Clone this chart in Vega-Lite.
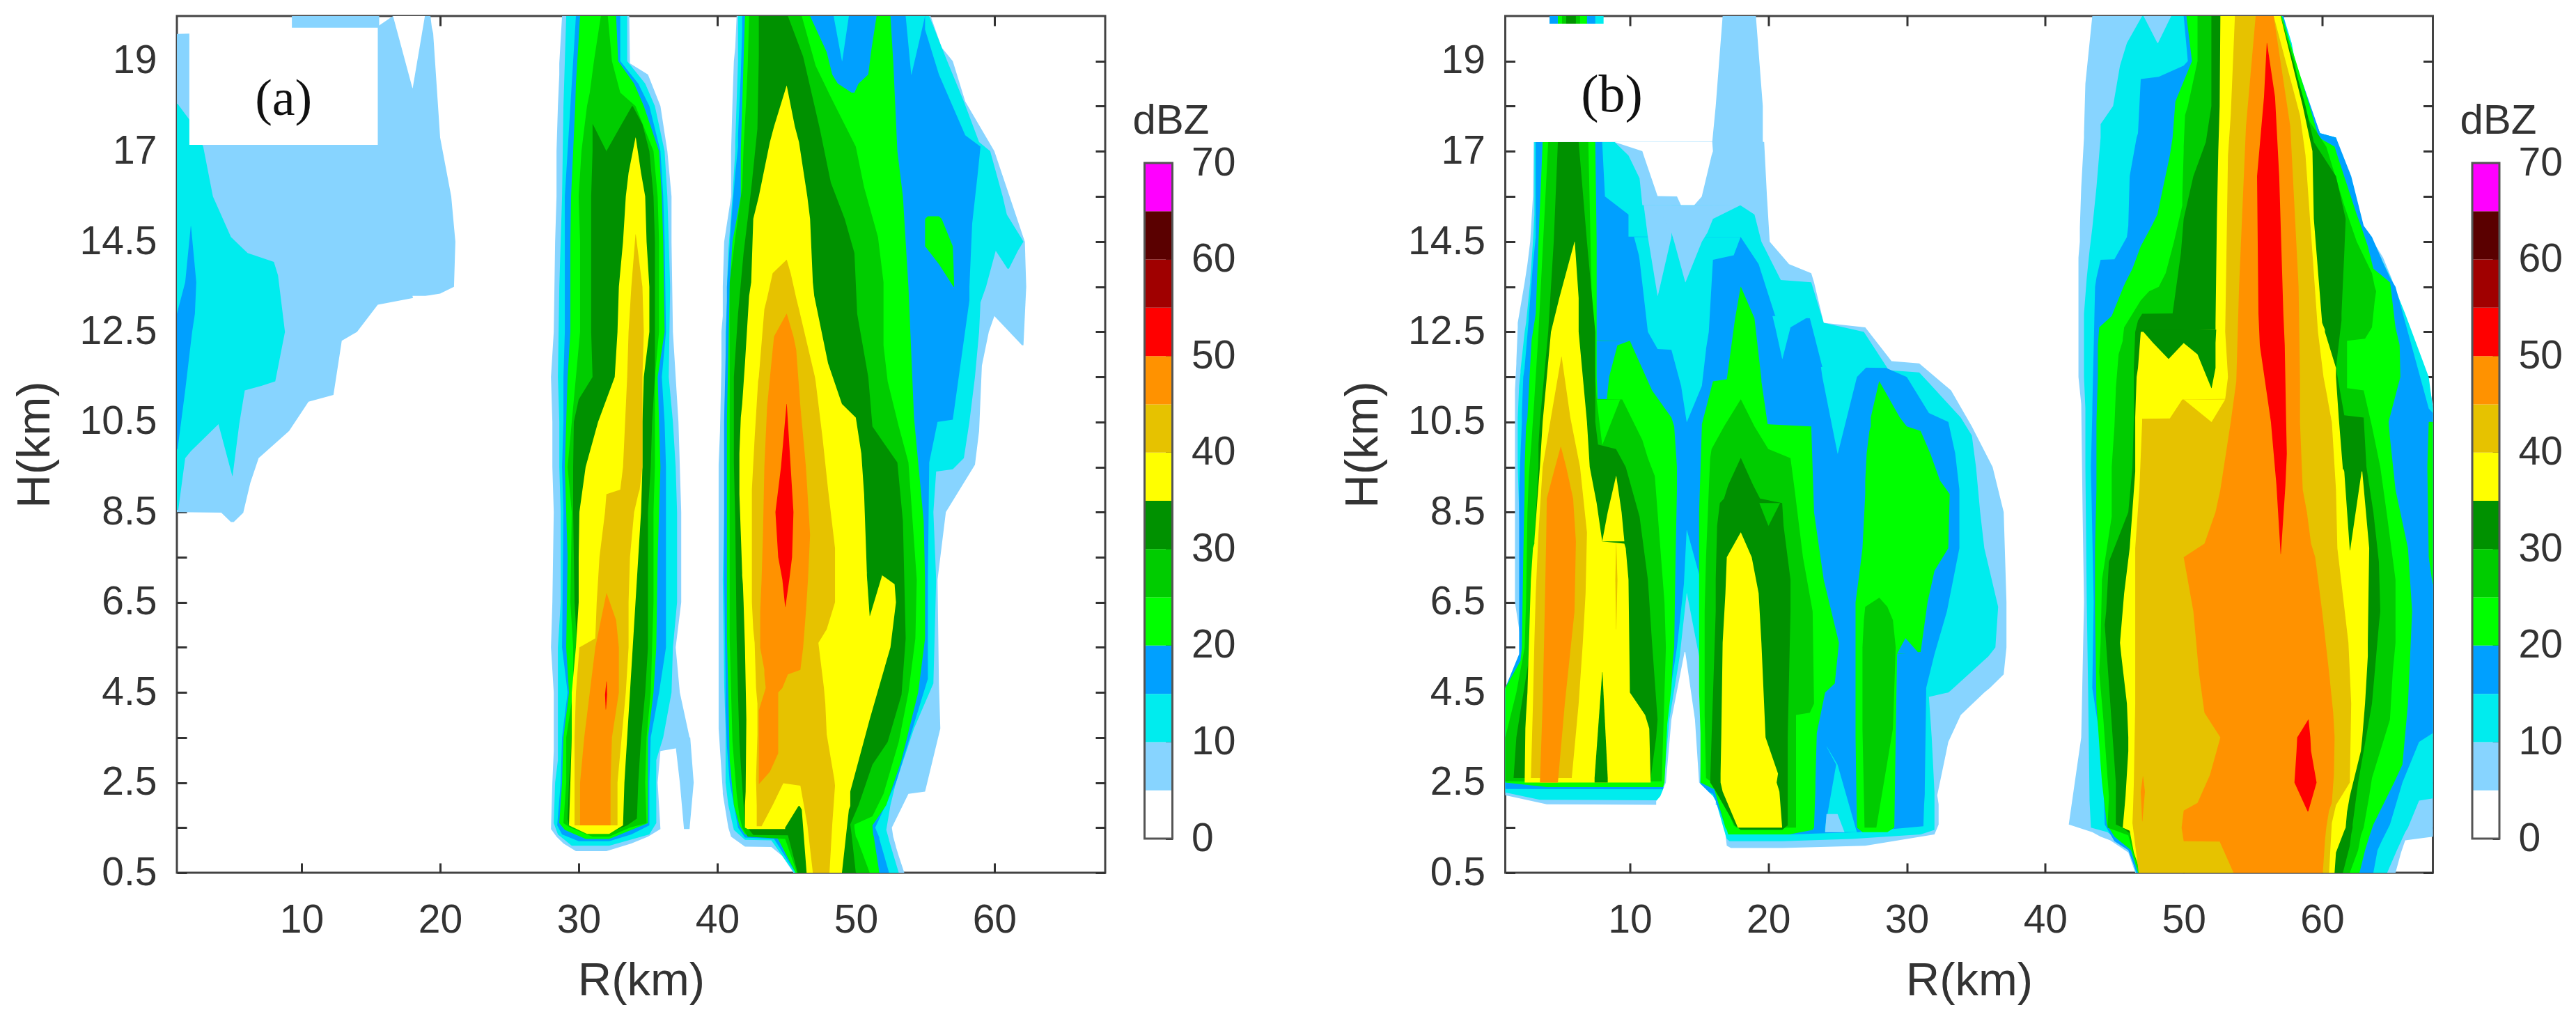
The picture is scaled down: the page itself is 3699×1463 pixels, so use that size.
{"$schema":"https://vega.github.io/schema/vega-lite/v6.json","background":"white","autosize":{"type":"pad"},"padding":{"left":14,"top":20,"right":0,"bottom":0},"bounds":"flush","spacing":56.5,"config":{"view":{"stroke":"#444","strokeWidth":3},"axis":{"grid":false,"labelFont":"Liberation Sans","titleFont":"Liberation Sans","labelFontSize":57,"titleFontSize":67,"titleFontWeight":"normal","labelColor":"#333","titleColor":"#333","tickColor":"#333","tickWidth":3,"domain":false,"labelOverlap":false,"labelFlush":false}},
"datasets":{
"cb":[{"lo":0,"hi":5,"z":0},{"lo":5,"hi":10,"z":5},{"lo":10,"hi":15,"z":10},{"lo":15,"hi":20,"z":15},{"lo":20,"hi":25,"z":20},{"lo":25,"hi":30,"z":25},{"lo":30,"hi":35,"z":30},{"lo":35,"hi":40,"z":35},{"lo":40,"hi":45,"z":40},{"lo":45,"hi":50,"z":45},{"lo":50,"hi":55,"z":50},{"lo":55,"hi":60,"z":55},{"lo":60,"hi":65,"z":60},{"lo":65,"hi":70,"z":65}],
"a":[
{"g":1,"z":5,"H":8.28,"a":4.9,"b":5.1},{"g":1,"z":5,"H":8.49,"a":4.2,"b":5.8},{"g":1,"z":5,"H":8.5,"a":1,"b":5.8},{"g":1,"z":5,"H":9.15,"a":1,"b":6.3},{"g":1,"z":5,"H":9.7,"a":1,"b":6.9},{"g":1,"z":5,"H":10.3,"a":1,"b":9.1},{"g":1,"z":5,"H":10.95,"a":1,"b":10.5},{"g":1,"z":5,"H":11.1,"a":1,"b":12.3},{"g":1,"z":5,"H":12.3,"a":1,"b":12.9},{"g":1,"z":5,"H":12.5,"a":1,"b":14},{"g":1,"z":5,"H":13.1,"a":1,"b":15.5},{"g":1,"z":5,"H":13.25,"a":1,"b":18},{"g":1,"z":5,"H":13.35,"a":1,"b":20},{"g":1,"z":5,"H":13.5,"a":1,"b":21},{"g":1,"z":5,"H":14.5,"a":1,"b":21.1},{"g":1,"z":5,"H":15.75,"a":1,"b":20.8},{"g":1,"z":5,"H":17.3,"a":1,"b":20},{"g":1,"z":5,"H":19.6,"a":1,"b":19.5},{"g":1,"z":5,"H":19.61,"a":1.9,"b":19.5},{"g":1,"z":5,"H":19.75,"a":15.4,"b":19.4},{"g":1,"z":5,"H":20,"a":16.6,"b":19.3},
{"g":2,"z":5,"H":19.7,"a":9.3,"b":15.6},{"g":2,"z":5,"H":20,"a":9.3,"b":15.6},
{"g":3,"z":0,"H":18.4,"a":18,"b":18.02},{"g":3,"z":0,"H":20,"a":16.6,"b":18.9},
{"g":4,"z":0,"H":12.1,"a":19,"b":19.02},{"g":4,"z":0,"H":13.3,"a":18,"b":20},
{"g":5,"z":10,"H":8.55,"a":1,"b":1.1},{"g":5,"z":10,"H":9.7,"a":1,"b":1.6},{"g":5,"z":10,"H":9.85,"a":1,"b":2},{"g":5,"z":10,"H":10.45,"a":1,"b":4},{"g":5,"z":10,"H":11.2,"a":1,"b":5.9},{"g":5,"z":10,"H":11.3,"a":1,"b":7.1},{"g":5,"z":10,"H":11.4,"a":1,"b":8.1},{"g":5,"z":10,"H":12.5,"a":1,"b":8.8},{"g":5,"z":10,"H":13.75,"a":1,"b":8.3},{"g":5,"z":10,"H":14.05,"a":1,"b":8},{"g":5,"z":10,"H":14.25,"a":1,"b":6.1},{"g":5,"z":10,"H":14.63,"a":1,"b":4.9},{"g":5,"z":10,"H":15.75,"a":1,"b":3.6},{"g":5,"z":10,"H":17.1,"a":1,"b":2.9},{"g":5,"z":10,"H":17.7,"a":1,"b":1.9},{"g":5,"z":10,"H":18.05,"a":1,"b":1.05},
{"g":6,"z":10,"H":9.3,"a":5,"b":5.02},{"g":6,"z":10,"H":10.45,"a":4,"b":5.5},{"g":6,"z":10,"H":11.2,"a":4,"b":5.9},
{"g":7,"z":15,"H":9.9,"a":1,"b":1.05},{"g":7,"z":15,"H":11.2,"a":1,"b":1.6},{"g":7,"z":15,"H":12.5,"a":1,"b":2.1},{"g":7,"z":15,"H":12.9,"a":1,"b":2.3},{"g":7,"z":15,"H":13.6,"a":1.6,"b":2.4},{"g":7,"z":15,"H":14.93,"a":2,"b":2.02},

{"g":10,"z":5,"H":0.98,"a":29.8,"b":32},{"g":10,"z":5,"H":1.15,"a":28.9,"b":33.8},{"g":10,"z":5,"H":1.3,"a":28.4,"b":35},{"g":10,"z":5,"H":1.47,"a":28,"b":35.9},{"g":10,"z":5,"H":2.5,"a":28.1,"b":35.7},{"g":10,"z":5,"H":3.2,"a":28.2,"b":35.9},{"g":10,"z":5,"H":3.26,"a":28.2,"b":37},{"g":10,"z":5,"H":3.5,"a":28.2,"b":38},{"g":10,"z":5,"H":4.5,"a":28.2,"b":37.3},{"g":10,"z":5,"H":5.5,"a":28,"b":37},{"g":10,"z":5,"H":6.5,"a":28.1,"b":37.4},{"g":10,"z":5,"H":8.5,"a":28.2,"b":37.4},{"g":10,"z":5,"H":9.5,"a":28.1,"b":37.3},{"g":10,"z":5,"H":10.5,"a":28.1,"b":37.2},{"g":10,"z":5,"H":11.5,"a":28,"b":37},{"g":10,"z":5,"H":12.5,"a":28.2,"b":36.8},{"g":10,"z":5,"H":14.5,"a":28.3,"b":36.7},{"g":10,"z":5,"H":15.75,"a":28.4,"b":36.7},{"g":10,"z":5,"H":17,"a":28.4,"b":36.4},{"g":10,"z":5,"H":18,"a":28.5,"b":35.9},{"g":10,"z":5,"H":18.7,"a":28.6,"b":35},{"g":10,"z":5,"H":18.95,"a":28.6,"b":33.7},{"g":10,"z":5,"H":20,"a":28.8,"b":33.65},
{"g":11,"z":5,"H":1.47,"a":37.6,"b":38},{"g":11,"z":5,"H":2.5,"a":37.3,"b":38.3},{"g":11,"z":5,"H":3.3,"a":37,"b":38.1},{"g":11,"z":5,"H":3.5,"a":37,"b":38.05},
{"g":12,"z":10,"H":1.1,"a":29.5,"b":32.2},{"g":12,"z":10,"H":1.35,"a":28.5,"b":35.1},{"g":12,"z":10,"H":1.6,"a":28.2,"b":35.6},{"g":12,"z":10,"H":2.5,"a":28.3,"b":35.6},{"g":12,"z":10,"H":3,"a":28.5,"b":35.6},{"g":12,"z":10,"H":3.5,"a":28.5,"b":36.1},{"g":12,"z":10,"H":4.5,"a":28.5,"b":36.7},{"g":12,"z":10,"H":5.5,"a":28.5,"b":36.8},{"g":12,"z":10,"H":6.5,"a":28.7,"b":37.1},{"g":12,"z":10,"H":8.5,"a":28.7,"b":37.1},{"g":12,"z":10,"H":9.5,"a":28.6,"b":37},{"g":12,"z":10,"H":10.5,"a":28.6,"b":36.8},{"g":12,"z":10,"H":11.5,"a":28.5,"b":36.5},{"g":12,"z":10,"H":13.5,"a":28.6,"b":36.6},{"g":12,"z":10,"H":14.5,"a":28.7,"b":36.5},{"g":12,"z":10,"H":15.75,"a":28.8,"b":36.4},{"g":12,"z":10,"H":17,"a":28.85,"b":36.2},{"g":12,"z":10,"H":18,"a":28.9,"b":35.5},{"g":12,"z":10,"H":18.5,"a":28.95,"b":34.8},{"g":12,"z":10,"H":19,"a":29,"b":33.5},{"g":12,"z":10,"H":20,"a":29.1,"b":33.5},
{"g":13,"z":15,"H":1.2,"a":30,"b":32.2},{"g":13,"z":15,"H":1.35,"a":28.8,"b":33.8},{"g":13,"z":15,"H":1.55,"a":28.45,"b":35.1},{"g":13,"z":15,"H":2.5,"a":28.7,"b":35.1},{"g":13,"z":15,"H":3.5,"a":28.8,"b":35.2},{"g":13,"z":15,"H":4.5,"a":29.2,"b":35.8},{"g":13,"z":15,"H":5.5,"a":28.8,"b":36.3},{"g":13,"z":15,"H":8.5,"a":28.9,"b":36.3},{"g":13,"z":15,"H":9.5,"a":28.8,"b":36.3},{"g":13,"z":15,"H":10.5,"a":28.9,"b":36.2},{"g":13,"z":15,"H":11.5,"a":28.9,"b":36},{"g":13,"z":15,"H":12.5,"a":29,"b":36.3},{"g":13,"z":15,"H":14.5,"a":29,"b":36.2},{"g":13,"z":15,"H":15.75,"a":29,"b":36.1},{"g":13,"z":15,"H":17,"a":29.2,"b":35.9},{"g":13,"z":15,"H":18,"a":29.4,"b":35.1},{"g":13,"z":15,"H":18.5,"a":29.5,"b":34.3},{"g":13,"z":15,"H":19,"a":29.6,"b":33},{"g":13,"z":15,"H":20,"a":29.8,"b":33},
{"g":14,"z":20,"H":1.25,"a":30.5,"b":32.2},{"g":14,"z":20,"H":1.45,"a":29,"b":33.8},{"g":14,"z":20,"H":1.6,"a":28.6,"b":35},{"g":14,"z":20,"H":2.5,"a":28.8,"b":35},{"g":14,"z":20,"H":3.5,"a":28.9,"b":35},{"g":14,"z":20,"H":4.5,"a":29.3,"b":35.4},{"g":14,"z":20,"H":5.5,"a":29.1,"b":35.6},{"g":14,"z":20,"H":7.5,"a":29.2,"b":35.7},{"g":14,"z":20,"H":9.5,"a":29,"b":35.9},{"g":14,"z":20,"H":10.5,"a":29.1,"b":35.8},{"g":14,"z":20,"H":11.5,"a":29.2,"b":35.7},{"g":14,"z":20,"H":12.5,"a":29.4,"b":36.2},{"g":14,"z":20,"H":14.5,"a":29.4,"b":36.1},{"g":14,"z":20,"H":15.75,"a":29.45,"b":36},{"g":14,"z":20,"H":17,"a":29.6,"b":35.8},{"g":14,"z":20,"H":18,"a":29.75,"b":34.7},{"g":14,"z":20,"H":18.5,"a":29.8,"b":34},{"g":14,"z":20,"H":19,"a":29.9,"b":32.85},{"g":14,"z":20,"H":20,"a":30.1,"b":32.7},
{"g":15,"z":25,"H":1.3,"a":31,"b":32.2},{"g":15,"z":25,"H":1.5,"a":29.4,"b":33.7},{"g":15,"z":25,"H":1.6,"a":28.9,"b":34.9},{"g":15,"z":25,"H":2.5,"a":29.1,"b":34.8},{"g":15,"z":25,"H":3.5,"a":29.1,"b":34.9},{"g":15,"z":25,"H":4.5,"a":29.6,"b":35.2},{"g":15,"z":25,"H":5.5,"a":29.6,"b":35.3},{"g":15,"z":25,"H":6.5,"a":29.4,"b":35.4},{"g":15,"z":25,"H":8.5,"a":29.5,"b":35.4},{"g":15,"z":25,"H":9.5,"a":29.2,"b":35.5},{"g":15,"z":25,"H":10.5,"a":29.5,"b":35.5},{"g":15,"z":25,"H":11.5,"a":29.8,"b":35.5},{"g":15,"z":25,"H":12.5,"a":30.1,"b":35.8},{"g":15,"z":25,"H":14.5,"a":30.1,"b":35.8},{"g":15,"z":25,"H":15.75,"a":30,"b":35.7},{"g":15,"z":25,"H":17,"a":30.2,"b":35.4},{"g":15,"z":25,"H":18,"a":30.6,"b":34.1},{"g":15,"z":25,"H":18.3,"a":30.8,"b":33},{"g":15,"z":25,"H":19,"a":31.1,"b":32.4},{"g":15,"z":25,"H":20,"a":31.6,"b":32.1},
{"g":16,"z":30,"H":1.4,"a":30.8,"b":32.3},{"g":16,"z":30,"H":1.55,"a":29.3,"b":33.5},{"g":16,"z":30,"H":1.7,"a":29.2,"b":34.2},{"g":16,"z":30,"H":2.5,"a":29.3,"b":34.3},{"g":16,"z":30,"H":3.5,"a":29.5,"b":34.5},{"g":16,"z":30,"H":4.5,"a":29.9,"b":34.8},{"g":16,"z":30,"H":5.5,"a":29.9,"b":35},{"g":16,"z":30,"H":6.5,"a":29.7,"b":35},{"g":16,"z":30,"H":8.5,"a":29.6,"b":35},{"g":16,"z":30,"H":9.5,"a":29.6,"b":35.2},{"g":16,"z":30,"H":10.5,"a":29.65,"b":35.3},{"g":16,"z":30,"H":11,"a":30,"b":35.4},{"g":16,"z":30,"H":11.5,"a":31,"b":35.5},{"g":16,"z":30,"H":12.5,"a":30.9,"b":35.5},{"g":16,"z":30,"H":14.5,"a":30.9,"b":35.5},{"g":16,"z":30,"H":15.75,"a":30.9,"b":35.4},{"g":16,"z":30,"H":17,"a":32,"b":35.1},{"g":16,"z":30,"H":17.6,"a":33.1,"b":34.6},{"g":16,"z":30,"H":18,"a":33.85,"b":33.9},
{"g":17,"z":30,"H":15.75,"a":30.9,"b":32},{"g":17,"z":30,"H":17,"a":31,"b":32},{"g":17,"z":30,"H":17.6,"a":31,"b":31.02},
{"g":18,"z":35,"H":1.36,"a":30.6,"b":32.2},{"g":18,"z":35,"H":1.55,"a":29.3,"b":33.2},{"g":18,"z":35,"H":2.5,"a":29.4,"b":33.3},{"g":18,"z":35,"H":3.5,"a":29.5,"b":33.5},{"g":18,"z":35,"H":4.5,"a":29.5,"b":33.7},{"g":18,"z":35,"H":5.5,"a":29.8,"b":33.9},{"g":18,"z":35,"H":6.5,"a":30,"b":34.1},{"g":18,"z":35,"H":7.5,"a":30,"b":34.3},{"g":18,"z":35,"H":8.5,"a":30.05,"b":34.5},{"g":18,"z":35,"H":9.5,"a":30.5,"b":34.6},{"g":18,"z":35,"H":10.5,"a":31.4,"b":34.6},{"g":18,"z":35,"H":11.5,"a":32.6,"b":34.7},{"g":18,"z":35,"H":12.5,"a":32.8,"b":35.1},{"g":18,"z":35,"H":13.5,"a":32.9,"b":35.1},{"g":18,"z":35,"H":14.5,"a":33.2,"b":34.9},{"g":18,"z":35,"H":15.75,"a":33.4,"b":34.8},{"g":18,"z":35,"H":16.4,"a":33.6,"b":34.5},{"g":18,"z":35,"H":17.3,"a":34.1,"b":34.12},
{"g":19,"z":40,"H":1.55,"a":29.7,"b":32.8},{"g":19,"z":40,"H":2.5,"a":29.7,"b":32.8},{"g":19,"z":40,"H":3.5,"a":29.7,"b":33.1},{"g":19,"z":40,"H":4.5,"a":29.8,"b":33.4},{"g":19,"z":40,"H":5.5,"a":30.05,"b":33.6},{"g":19,"z":40,"H":5.7,"a":31.2,"b":33.6},{"g":19,"z":40,"H":6.5,"a":31.3,"b":33.6},{"g":19,"z":40,"H":7.5,"a":31.5,"b":33.7},{"g":19,"z":40,"H":8.5,"a":31.9,"b":34},{"g":19,"z":40,"H":8.9,"a":32,"b":34.3},{"g":19,"z":40,"H":9,"a":33,"b":34.4},{"g":19,"z":40,"H":9.5,"a":33.2,"b":34.6},{"g":19,"z":40,"H":11.5,"a":33.5,"b":34.6},{"g":19,"z":40,"H":12.5,"a":33.6,"b":34.7},{"g":19,"z":40,"H":13.5,"a":33.8,"b":34.6},{"g":19,"z":40,"H":14.7,"a":34.1,"b":34.12},
{"g":20,"z":45,"H":1.55,"a":30.1,"b":32.3},{"g":20,"z":45,"H":2.5,"a":30.1,"b":32.3},{"g":20,"z":45,"H":3.5,"a":30.4,"b":32.4},{"g":20,"z":45,"H":4.5,"a":30.8,"b":32.9},{"g":20,"z":45,"H":5.5,"a":31.2,"b":32.9},{"g":20,"z":45,"H":6.1,"a":31.6,"b":32.7},{"g":20,"z":45,"H":6.7,"a":32,"b":32.02},
{"g":21,"z":50,"H":4.12,"a":31.95,"b":31.97},{"g":21,"z":50,"H":4.45,"a":31.9,"b":32.05},{"g":21,"z":50,"H":4.74,"a":32,"b":32.02},

{"g":30,"z":5,"H":0.5,"a":45.5,"b":53.5},{"g":30,"z":5,"H":0.87,"a":44.7,"b":53.1},{"g":30,"z":5,"H":1.07,"a":43.9,"b":52.9},{"g":30,"z":5,"H":1.08,"a":42,"b":52.9},{"g":30,"z":5,"H":1.3,"a":41,"b":52.7},{"g":30,"z":5,"H":1.5,"a":40.8,"b":52.6},{"g":30,"z":5,"H":2.25,"a":40.4,"b":53.8},{"g":30,"z":5,"H":2.3,"a":40.4,"b":55},{"g":30,"z":5,"H":3.7,"a":40.1,"b":56.1},{"g":30,"z":5,"H":4.7,"a":40.1,"b":56},{"g":30,"z":5,"H":7,"a":40.1,"b":55.9},{"g":30,"z":5,"H":8.5,"a":40.1,"b":56.5},{"g":30,"z":5,"H":9.55,"a":40.1,"b":58.6},{"g":30,"z":5,"H":10.3,"a":40.2,"b":58.9},{"g":30,"z":5,"H":11.75,"a":40.3,"b":59.1},{"g":30,"z":5,"H":12.5,"a":40.3,"b":59.6},{"g":30,"z":5,"H":12.85,"a":40.4,"b":60},{"g":30,"z":5,"H":13.5,"a":40.4,"b":60.5},{"g":30,"z":5,"H":14.5,"a":40.5,"b":62.2},{"g":30,"z":5,"H":15.75,"a":41,"b":61.1},{"g":30,"z":5,"H":17,"a":41,"b":60},{"g":30,"z":5,"H":18.1,"a":41.1,"b":57.9},{"g":30,"z":5,"H":19,"a":41.2,"b":57},{"g":30,"z":5,"H":19.3,"a":41.3,"b":56.2},{"g":30,"z":5,"H":20,"a":41.4,"b":55.4},
{"g":31,"z":5,"H":12.2,"a":62,"b":62.1},{"g":31,"z":5,"H":12.85,"a":60,"b":62.2},{"g":31,"z":5,"H":13.5,"a":60,"b":62.3},{"g":31,"z":5,"H":14.5,"a":60,"b":62.2},
{"g":32,"z":10,"H":0.5,"a":45.55,"b":53.1},{"g":32,"z":10,"H":1.22,"a":43.9,"b":52.4},{"g":32,"z":10,"H":1.23,"a":42,"b":52.4},{"g":32,"z":10,"H":1.45,"a":41.2,"b":52.2},{"g":32,"z":10,"H":2,"a":40.8,"b":52.5},{"g":32,"z":10,"H":2.5,"a":40.6,"b":52.9},{"g":32,"z":10,"H":3.7,"a":40.6,"b":54.2},{"g":32,"z":10,"H":4.7,"a":40.5,"b":55.6},{"g":32,"z":10,"H":7,"a":40.4,"b":55.8},{"g":32,"z":10,"H":8.5,"a":40.5,"b":55.6},{"g":32,"z":10,"H":9.4,"a":40.5,"b":55.8},{"g":32,"z":10,"H":9.45,"a":40.5,"b":57},{"g":32,"z":10,"H":9.7,"a":40.5,"b":57.8},{"g":32,"z":10,"H":10.5,"a":40.5,"b":58.2},{"g":32,"z":10,"H":11.5,"a":40.6,"b":58.6},{"g":32,"z":10,"H":12.5,"a":40.6,"b":58.9},{"g":32,"z":10,"H":13.15,"a":40.7,"b":59},{"g":32,"z":10,"H":13.5,"a":40.7,"b":59.4},{"g":32,"z":10,"H":14.3,"a":40.8,"b":60.1},{"g":32,"z":10,"H":15.25,"a":41,"b":60.9},{"g":32,"z":10,"H":15.75,"a":41.1,"b":60.6},{"g":32,"z":10,"H":17,"a":41.3,"b":59.7},{"g":32,"z":10,"H":17.2,"a":41.3,"b":58.9},{"g":32,"z":10,"H":18.1,"a":41.4,"b":57.8},{"g":32,"z":10,"H":19,"a":41.5,"b":56.6},{"g":32,"z":10,"H":20,"a":41.5,"b":55.3},
{"g":33,"z":10,"H":13.9,"a":60.95,"b":61.05},{"g":33,"z":10,"H":14.3,"a":60.1,"b":61.7},{"g":33,"z":10,"H":14.5,"a":60.1,"b":62.1},{"g":33,"z":10,"H":14.63,"a":60.1,"b":61.9},{"g":33,"z":10,"H":15.25,"a":60.1,"b":60.9},
{"g":34,"z":15,"H":0.5,"a":45.65,"b":52.4},{"g":34,"z":15,"H":1.25,"a":44.1,"b":51.7},{"g":34,"z":15,"H":1.28,"a":42,"b":51.7},{"g":34,"z":15,"H":1.5,"a":41.5,"b":51.4},{"g":34,"z":15,"H":2.5,"a":40.9,"b":52.9},{"g":34,"z":15,"H":3.3,"a":40.7,"b":53.7},{"g":34,"z":15,"H":4.2,"a":40.6,"b":54.6},{"g":34,"z":15,"H":4.8,"a":40.6,"b":55.2},{"g":34,"z":15,"H":7,"a":40.5,"b":55.2},{"g":34,"z":15,"H":9.6,"a":40.5,"b":55.3},{"g":34,"z":15,"H":10.5,"a":40.5,"b":55.9},{"g":34,"z":15,"H":10.55,"a":40.5,"b":57},{"g":34,"z":15,"H":13.2,"a":40.7,"b":58.2},{"g":34,"z":15,"H":13.5,"a":40.7,"b":58.2},{"g":34,"z":15,"H":15,"a":41,"b":58.4},{"g":34,"z":15,"H":16.38,"a":41.3,"b":58.8},{"g":34,"z":15,"H":17.1,"a":41.5,"b":59},{"g":34,"z":15,"H":17.35,"a":41.5,"b":57.9},{"g":34,"z":15,"H":18.7,"a":41.7,"b":56},{"g":34,"z":15,"H":19.7,"a":41.8,"b":55},{"g":34,"z":15,"H":20,"a":41.8,"b":55},
{"g":35,"z":10,"H":18.7,"a":54,"b":54.02},{"g":35,"z":10,"H":20,"a":53.6,"b":55},
{"g":36,"z":20,"H":0.5,"a":45.65,"b":51.7},{"g":36,"z":20,"H":1.3,"a":44.3,"b":51.3},{"g":36,"z":20,"H":1.35,"a":42,"b":51.25},{"g":36,"z":20,"H":1.55,"a":41.6,"b":51.2},{"g":36,"z":20,"H":2,"a":41.2,"b":52.2},{"g":36,"z":20,"H":3,"a":40.9,"b":53.3},{"g":36,"z":20,"H":4.5,"a":40.8,"b":54.5},{"g":36,"z":20,"H":5.7,"a":40.7,"b":55},{"g":36,"z":20,"H":7,"a":40.7,"b":55},{"g":36,"z":20,"H":8.3,"a":40.7,"b":54.9},{"g":36,"z":20,"H":10.6,"a":40.7,"b":54.2},{"g":36,"z":20,"H":13.5,"a":40.9,"b":53.8},{"g":36,"z":20,"H":14.5,"a":41.1,"b":53.6},{"g":36,"z":20,"H":15.75,"a":41.7,"b":53.4},{"g":36,"z":20,"H":17,"a":41.7,"b":53},{"g":36,"z":20,"H":19,"a":41.9,"b":52.7},{"g":36,"z":20,"H":20,"a":42,"b":52.5},
{"g":37,"z":20,"H":13.5,"a":57.05,"b":57.1},{"g":37,"z":20,"H":14,"a":56,"b":57.05},{"g":37,"z":20,"H":14.4,"a":55,"b":57},{"g":37,"z":20,"H":15.13,"a":55,"b":56.2},{"g":37,"z":20,"H":15.2,"a":55.2,"b":56},
{"g":38,"z":15,"H":18.3,"a":49.7,"b":49.9},{"g":38,"z":15,"H":18.5,"a":48.7,"b":50.2},{"g":38,"z":15,"H":18.7,"a":48.3,"b":50.9},{"g":38,"z":15,"H":19.2,"a":47.9,"b":51.1},{"g":38,"z":15,"H":20,"a":46.7,"b":51.5},
{"g":39,"z":10,"H":19,"a":49,"b":49.02},{"g":39,"z":10,"H":20,"a":48.4,"b":49.5},
{"g":40,"z":25,"H":0.5,"a":45.75,"b":51},{"g":40,"z":25,"H":1.25,"a":44.9,"b":50.1},{"g":40,"z":25,"H":1.3,"a":42.2,"b":50},{"g":40,"z":25,"H":1.5,"a":41.8,"b":49.9},{"g":40,"z":25,"H":1.57,"a":41.75,"b":49.9},{"g":40,"z":25,"H":1.75,"a":41.6,"b":51.2},{"g":40,"z":25,"H":2.25,"a":41.4,"b":52},{"g":40,"z":25,"H":3.4,"a":41.1,"b":53.1},{"g":40,"z":25,"H":4.5,"a":41,"b":53.8},{"g":40,"z":25,"H":5.7,"a":40.9,"b":54.3},{"g":40,"z":25,"H":7,"a":40.9,"b":54.4},{"g":40,"z":25,"H":9.6,"a":40.9,"b":53.8},{"g":40,"z":25,"H":10.4,"a":40.9,"b":53.1},{"g":40,"z":25,"H":11.4,"a":40.9,"b":52.3},{"g":40,"z":25,"H":12.2,"a":40.9,"b":52},{"g":40,"z":25,"H":13.6,"a":40.9,"b":52},{"g":40,"z":25,"H":14.63,"a":41.3,"b":51.6},{"g":40,"z":25,"H":16,"a":41.8,"b":50.6},{"g":40,"z":25,"H":17.1,"a":41.9,"b":50},{"g":40,"z":25,"H":18.2,"a":42.1,"b":48.2},{"g":40,"z":25,"H":18.9,"a":42.2,"b":47.1},{"g":40,"z":25,"H":20,"a":42.3,"b":46.1},
{"g":41,"z":30,"H":0.5,"a":45.8,"b":50},{"g":41,"z":30,"H":1.33,"a":45.1,"b":49.7},{"g":41,"z":30,"H":1.34,"a":42.6,"b":49.7},{"g":41,"z":30,"H":1.57,"a":42,"b":49.6},{"g":41,"z":30,"H":2,"a":41.9,"b":50.2},{"g":41,"z":30,"H":2.9,"a":41.7,"b":51.2},{"g":41,"z":30,"H":3.4,"a":41.6,"b":52.3},{"g":41,"z":30,"H":4.45,"a":41.5,"b":53.3},{"g":41,"z":30,"H":5.7,"a":41.4,"b":53.6},{"g":41,"z":30,"H":8.3,"a":41.3,"b":53.4},{"g":41,"z":30,"H":9.6,"a":41.2,"b":53},{"g":41,"z":30,"H":10.4,"a":41.2,"b":51.2},{"g":41,"z":30,"H":11.5,"a":41.2,"b":50.9},{"g":41,"z":30,"H":12.9,"a":41.5,"b":50.1},{"g":41,"z":30,"H":14.25,"a":41.9,"b":49.9},{"g":41,"z":30,"H":15.13,"a":42.2,"b":49.2},{"g":41,"z":30,"H":16.13,"a":42.5,"b":48.2},{"g":41,"z":30,"H":17.5,"a":42.9,"b":47.4},{"g":41,"z":30,"H":19.1,"a":43,"b":46.2},{"g":41,"z":30,"H":20,"a":43,"b":45.1},
{"g":42,"z":35,"H":0.5,"a":46.45,"b":49},{"g":42,"z":35,"H":1.9,"a":46.1,"b":49.5},{"g":42,"z":35,"H":1.98,"a":45.95,"b":49.6},{"g":42,"z":35,"H":2,"a":42,"b":49.6},{"g":42,"z":35,"H":2.3,"a":42.05,"b":49.6},{"g":42,"z":35,"H":3.9,"a":42.1,"b":51},{"g":42,"z":35,"H":5.5,"a":42,"b":52.5},{"g":42,"z":35,"H":6.5,"a":41.9,"b":52.9},{"g":42,"z":35,"H":6.9,"a":41.85,"b":52.8},{"g":42,"z":35,"H":7.1,"a":41.8,"b":51.9},{"g":42,"z":35,"H":7.15,"a":41.8,"b":50.8},{"g":42,"z":35,"H":8.9,"a":41.6,"b":50.6},{"g":42,"z":35,"H":9.8,"a":41.6,"b":50.4},{"g":42,"z":35,"H":10.6,"a":41.7,"b":50},{"g":42,"z":35,"H":10.9,"a":41.8,"b":49},{"g":42,"z":35,"H":11.8,"a":42,"b":48},{"g":42,"z":35,"H":13.3,"a":42.3,"b":47},{"g":42,"z":35,"H":13.6,"a":42.45,"b":46.9},{"g":42,"z":35,"H":15.13,"a":42.6,"b":46.7},{"g":42,"z":35,"H":15.75,"a":43,"b":46.5},{"g":42,"z":35,"H":17.2,"a":43.8,"b":45.9},{"g":42,"z":35,"H":17.55,"a":44.1,"b":45.6},{"g":42,"z":35,"H":18.45,"a":45,"b":45.02},
{"g":43,"z":35,"H":1.47,"a":42.2,"b":44.9},{"g":43,"z":35,"H":1.5,"a":42,"b":44.9},{"g":43,"z":35,"H":2,"a":42,"b":45.9},
{"g":44,"z":30,"H":6.2,"a":51,"b":51.02},{"g":44,"z":30,"H":7.1,"a":50.8,"b":51.9},{"g":44,"z":30,"H":7.15,"a":50.8,"b":51.5},
{"g":45,"z":40,"H":0.5,"a":46.9,"b":48.1},{"g":45,"z":40,"H":1.57,"a":46.5,"b":48.3},{"g":45,"z":40,"H":2.43,"a":46,"b":48.5},{"g":45,"z":40,"H":2.57,"a":42.8,"b":48.45},{"g":45,"z":40,"H":3.57,"a":42.9,"b":47.9},{"g":45,"z":40,"H":4.25,"a":42.9,"b":47.8},{"g":45,"z":40,"H":4.6,"a":42.8,"b":47.7},{"g":45,"z":40,"H":5.6,"a":42.7,"b":47.3},{"g":45,"z":40,"H":5.9,"a":42.6,"b":47.9},{"g":45,"z":40,"H":6.5,"a":42.5,"b":48.5},{"g":45,"z":40,"H":7.7,"a":42.5,"b":48.5},{"g":45,"z":40,"H":9,"a":42.5,"b":48},{"g":45,"z":40,"H":10.15,"a":42.7,"b":47.6},{"g":45,"z":40,"H":11.4,"a":42.95,"b":47.1},{"g":45,"z":40,"H":11.5,"a":43,"b":47.05},{"g":45,"z":40,"H":13,"a":43.4,"b":45.9},{"g":45,"z":40,"H":13.25,"a":43.6,"b":45.7},{"g":45,"z":40,"H":13.8,"a":44,"b":45.3},{"g":45,"z":40,"H":14.1,"a":45,"b":45.02},
{"g":46,"z":40,"H":1.53,"a":42.85,"b":43.2},{"g":46,"z":40,"H":2,"a":42.85,"b":44},{"g":46,"z":40,"H":2.57,"a":42.8,"b":44.9},
{"g":47,"z":45,"H":2.47,"a":43,"b":43.02},{"g":47,"z":45,"H":2.74,"a":43,"b":43.8},{"g":47,"z":45,"H":3.15,"a":43,"b":44.4},{"g":47,"z":45,"H":4.1,"a":43,"b":44.4},{"g":47,"z":45,"H":4.5,"a":43.4,"b":44.4},{"g":47,"z":45,"H":4.6,"a":43.5,"b":44.7},{"g":47,"z":45,"H":4.9,"a":43.4,"b":45.1},{"g":47,"z":45,"H":5,"a":43.4,"b":46},{"g":47,"z":45,"H":5.5,"a":43.1,"b":46.2},{"g":47,"z":45,"H":6.3,"a":43.1,"b":46.4},{"g":47,"z":45,"H":7,"a":43.2,"b":46.55},{"g":47,"z":45,"H":8,"a":43.3,"b":46.7},{"g":47,"z":45,"H":9.5,"a":43.4,"b":46.4},{"g":47,"z":45,"H":10.85,"a":43.6,"b":46},{"g":47,"z":45,"H":12.1,"a":44,"b":45.7},{"g":47,"z":45,"H":12.4,"a":44.1,"b":45.5},{"g":47,"z":45,"H":12.9,"a":45,"b":45.02},
{"g":48,"z":50,"H":6.4,"a":44.9,"b":44.92},{"g":48,"z":50,"H":7,"a":44.7,"b":45.2},{"g":48,"z":50,"H":7.5,"a":44.4,"b":45.4},{"g":48,"z":50,"H":8.5,"a":44.2,"b":45.5},{"g":48,"z":50,"H":9.5,"a":44.6,"b":45.3},{"g":48,"z":50,"H":10.9,"a":45,"b":45.02}
],
"b":[
{"g":1,"z":5,"H":1.05,"a":17.3,"b":21},{"g":1,"z":5,"H":1.1,"a":17,"b":27},{"g":1,"z":5,"H":1.35,"a":16.9,"b":32},{"g":1,"z":5,"H":1.57,"a":16.8,"b":32.3},{"g":1,"z":5,"H":2,"a":16.3,"b":32.3},{"g":1,"z":5,"H":2.02,"a":4,"b":32.3},{"g":1,"z":5,"H":2.22,"a":1,"b":32.2},{"g":1,"z":5,"H":3.4,"a":1,"b":33},{"g":1,"z":5,"H":4,"a":1,"b":33.9},{"g":1,"z":5,"H":4.5,"a":1,"b":35.6},{"g":1,"z":5,"H":4.6,"a":1,"b":36},{"g":1,"z":5,"H":4.9,"a":1.4,"b":37},{"g":1,"z":5,"H":5.5,"a":2.2,"b":37.2},{"g":1,"z":5,"H":6.5,"a":1.7,"b":37.2},{"g":1,"z":5,"H":8.5,"a":1.7,"b":37},{"g":1,"z":5,"H":9.5,"a":1.7,"b":36.2},{"g":1,"z":5,"H":10.4,"a":1.7,"b":34.7},{"g":1,"z":5,"H":11.2,"a":1.7,"b":33.2},{"g":1,"z":5,"H":11.8,"a":1.8,"b":30.9},{"g":1,"z":5,"H":11.85,"a":1.8,"b":28.9},{"g":1,"z":5,"H":12.6,"a":1.9,"b":27},{"g":1,"z":5,"H":12.7,"a":1.9,"b":24},{"g":1,"z":5,"H":13.6,"a":2.4,"b":23.3},{"g":1,"z":5,"H":13.8,"a":2.5,"b":23.1},{"g":1,"z":5,"H":14,"a":2.6,"b":21.5},{"g":1,"z":5,"H":14.5,"a":2.8,"b":20.1},{"g":1,"z":5,"H":15.75,"a":3,"b":19.9},{"g":1,"z":5,"H":17.2,"a":3.05,"b":19.7},{"g":1,"z":5,"H":17.21,"a":15.95,"b":19.6},{"g":1,"z":5,"H":18,"a":16.2,"b":19.6},{"g":1,"z":5,"H":20,"a":16.7,"b":19.1},
{"g":2,"z":0,"H":15.25,"a":14,"b":14.05},{"g":2,"z":0,"H":15.75,"a":13.4,"b":15.2},{"g":2,"z":0,"H":15.76,"a":12,"b":15.2},{"g":2,"z":0,"H":16.88,"a":11,"b":15.9},{"g":2,"z":0,"H":17,"a":10.9,"b":16},{"g":2,"z":0,"H":17.2,"a":8.9,"b":15.95},
{"g":4,"z":5,"H":0.5,"a":46.5,"b":65.3},{"g":4,"z":5,"H":0.95,"a":46,"b":65.7},{"g":4,"z":5,"H":1.22,"a":44.7,"b":66},{"g":4,"z":5,"H":1.3,"a":44,"b":68},{"g":4,"z":5,"H":1.4,"a":43.4,"b":68},{"g":4,"z":5,"H":1.57,"a":41.7,"b":68},{"g":4,"z":5,"H":3.5,"a":42.6,"b":68},{"g":4,"z":5,"H":6.5,"a":42.8,"b":68},{"g":4,"z":5,"H":8.5,"a":42.7,"b":68},{"g":4,"z":5,"H":10.9,"a":42.6,"b":68},{"g":4,"z":5,"H":11.5,"a":42.4,"b":67.6},{"g":4,"z":5,"H":13.7,"a":42.4,"b":65},{"g":4,"z":5,"H":14.15,"a":42.4,"b":64.4},{"g":4,"z":5,"H":14.5,"a":42.5,"b":63.7},{"g":4,"z":5,"H":14.88,"a":42.5,"b":62.8},{"g":4,"z":5,"H":16,"a":42.6,"b":62},{"g":4,"z":5,"H":17.3,"a":42.8,"b":61},{"g":4,"z":5,"H":17.4,"a":42.8,"b":59.85},{"g":4,"z":5,"H":18.5,"a":42.9,"b":58.2},{"g":4,"z":5,"H":20,"a":43.4,"b":57},
{"g":5,"z":10,"H":1.2,"a":17.2,"b":21},{"g":5,"z":10,"H":1.25,"a":17,"b":26},{"g":5,"z":10,"H":1.35,"a":16.9,"b":31},{"g":5,"z":10,"H":1.45,"a":16.8,"b":32},{"g":5,"z":10,"H":2.1,"a":16.2,"b":32},{"g":5,"z":10,"H":2.12,"a":3.5,"b":32},{"g":5,"z":10,"H":2.28,"a":1,"b":32},{"g":5,"z":10,"H":3.5,"a":1,"b":31.8},{"g":5,"z":10,"H":4.4,"a":1,"b":31.6},{"g":5,"z":10,"H":4.5,"a":1,"b":33},{"g":5,"z":10,"H":4.55,"a":1,"b":33.2},{"g":5,"z":10,"H":5.3,"a":2.2,"b":35.9},{"g":5,"z":10,"H":5.5,"a":2.4,"b":36.4},{"g":5,"z":10,"H":6.4,"a":2.3,"b":36.6},{"g":5,"z":10,"H":7.7,"a":2.1,"b":35.6},{"g":5,"z":10,"H":8.5,"a":2,"b":35.3},{"g":5,"z":10,"H":9.5,"a":1.9,"b":35},{"g":5,"z":10,"H":10.2,"a":1.9,"b":34.7},{"g":5,"z":10,"H":10.6,"a":1.9,"b":33.9},{"g":5,"z":10,"H":11.3,"a":2,"b":31.8},{"g":5,"z":10,"H":11.6,"a":2.1,"b":30.9},{"g":5,"z":10,"H":11.65,"a":2.1,"b":28.7},{"g":5,"z":10,"H":12.5,"a":2.4,"b":26.9},{"g":5,"z":10,"H":12.7,"a":2.5,"b":24},{"g":5,"z":10,"H":13.6,"a":2.8,"b":23.1},{"g":5,"z":10,"H":13.65,"a":2.8,"b":20.9},{"g":5,"z":10,"H":14.5,"a":3,"b":19.5},{"g":5,"z":10,"H":15.25,"a":3.1,"b":19},{"g":5,"z":10,"H":15.5,"a":3.1,"b":18},{"g":5,"z":10,"H":15.51,"a":3.1,"b":10.9},{"g":5,"z":10,"H":16.25,"a":3.1,"b":10.7},{"g":5,"z":10,"H":16.88,"a":3.1,"b":9.9},{"g":5,"z":10,"H":17.2,"a":3.1,"b":8.9},
{"g":9,"z":10,"H":0.5,"a":46.55,"b":64.7},{"g":9,"z":10,"H":1,"a":46.1,"b":65.4},{"g":9,"z":10,"H":1.4,"a":44.5,"b":66},{"g":9,"z":10,"H":1.5,"a":43.3,"b":66.2},{"g":9,"z":10,"H":2.1,"a":43.2,"b":67},{"g":9,"z":10,"H":2.15,"a":43.2,"b":68},{"g":9,"z":10,"H":4.5,"a":43.1,"b":68},{"g":9,"z":10,"H":6.5,"a":43,"b":68},{"g":9,"z":10,"H":9.5,"a":42.9,"b":68},{"g":9,"z":10,"H":10.8,"a":42.9,"b":68},{"g":9,"z":10,"H":11.5,"a":42.8,"b":67.7},{"g":9,"z":10,"H":12.9,"a":42.8,"b":66},{"g":9,"z":10,"H":13.7,"a":43,"b":64.95},{"g":9,"z":10,"H":14.3,"a":43.2,"b":64},{"g":9,"z":10,"H":14.88,"a":43.4,"b":63},{"g":9,"z":10,"H":16,"a":43.7,"b":62},{"g":9,"z":10,"H":17.3,"a":44,"b":61},{"g":9,"z":10,"H":17.4,"a":44,"b":59.85},{"g":9,"z":10,"H":17.6,"a":44,"b":59.6},{"g":9,"z":10,"H":18,"a":44.9,"b":59.1},{"g":9,"z":10,"H":18.9,"a":45.4,"b":58.1},{"g":9,"z":10,"H":19.4,"a":45.9,"b":57.8},{"g":9,"z":10,"H":20,"a":47,"b":57.2},
{"g":10,"z":5,"H":19.4,"a":48.1,"b":48.15},{"g":10,"z":5,"H":20,"a":47.1,"b":49.1},
{"g":11,"z":15,"H":1.35,"a":17.2,"b":21.5},{"g":11,"z":15,"H":1.4,"a":17.1,"b":26.5},{"g":11,"z":15,"H":1.53,"a":16.9,"b":31.2},{"g":11,"z":15,"H":2,"a":16.3,"b":31.25},{"g":11,"z":15,"H":2.25,"a":16,"b":31.3},{"g":11,"z":15,"H":2.35,"a":15.1,"b":31.3},{"g":11,"z":15,"H":2.36,"a":1,"b":31.3},{"g":11,"z":15,"H":4.5,"a":1,"b":31.4},{"g":11,"z":15,"H":4.6,"a":1,"b":31.4},{"g":11,"z":15,"H":5.35,"a":2,"b":32},{"g":11,"z":15,"H":6.3,"a":2,"b":32.9},{"g":11,"z":15,"H":7.7,"a":2,"b":33.8},{"g":11,"z":15,"H":9,"a":2,"b":33.8},{"g":11,"z":15,"H":9.8,"a":2.1,"b":33.5},{"g":11,"z":15,"H":10.5,"a":2.2,"b":33},{"g":11,"z":15,"H":10.7,"a":2.2,"b":31.6},{"g":11,"z":15,"H":11.5,"a":2.3,"b":30},{"g":11,"z":15,"H":11.7,"a":2.4,"b":28.5},{"g":11,"z":15,"H":11.72,"a":2.4,"b":23.9},{"g":11,"z":15,"H":12.8,"a":2.7,"b":23},{"g":11,"z":15,"H":12.85,"a":2.7,"b":20.5},{"g":11,"z":15,"H":14,"a":3,"b":19.3},{"g":11,"z":15,"H":14.63,"a":3.2,"b":18},{"g":11,"z":15,"H":14.64,"a":3.2,"b":9.9},{"g":11,"z":15,"H":15.25,"a":3.2,"b":9.9},{"g":11,"z":15,"H":15.75,"a":3.2,"b":8.2},{"g":11,"z":15,"H":17.2,"a":3.2,"b":8},
{"g":13,"z":10,"H":9.8,"a":25,"b":25.02},{"g":13,"z":10,"H":11.5,"a":23.9,"b":26.4},{"g":13,"z":10,"H":11.72,"a":23.8,"b":27.1},
{"g":14,"z":10,"H":11.9,"a":21,"b":21.02},{"g":14,"z":10,"H":12.6,"a":20.5,"b":21.6},{"g":14,"z":10,"H":12.85,"a":20.3,"b":23},
{"g":15,"z":10,"H":10.5,"a":14.1,"b":14.12},{"g":15,"z":10,"H":11.3,"a":13.7,"b":15.2},{"g":15,"z":10,"H":12.1,"a":13,"b":15.5},{"g":15,"z":10,"H":12.12,"a":12,"b":15.5},{"g":15,"z":10,"H":12.5,"a":11.3,"b":15.7},{"g":15,"z":10,"H":14.1,"a":10.7,"b":16},{"g":15,"z":10,"H":14.2,"a":10.65,"b":17.5},{"g":15,"z":10,"H":14.63,"a":10.3,"b":18},
{"g":6,"z":5,"H":13.3,"a":12,"b":12.02},{"g":6,"z":5,"H":14.63,"a":11.3,"b":13},{"g":6,"z":5,"H":15.51,"a":11,"b":13},
{"g":7,"z":5,"H":13.6,"a":14,"b":14.02},{"g":7,"z":5,"H":14.5,"a":13.2,"b":15.2},{"g":7,"z":5,"H":14.75,"a":13,"b":15.6},{"g":7,"z":5,"H":15.13,"a":12.5,"b":16},{"g":7,"z":5,"H":15.51,"a":11,"b":18},
{"g":16,"z":10,"H":1.4,"a":24.1,"b":26.4},{"g":16,"z":10,"H":1.5,"a":24.1,"b":26.3},{"g":16,"z":10,"H":2.9,"a":24.9,"b":25},{"g":16,"z":10,"H":3.3,"a":24.2,"b":24.22},
{"g":17,"z":5,"H":1.4,"a":24.1,"b":25.5},{"g":17,"z":5,"H":1.8,"a":24.2,"b":25},
{"g":18,"z":10,"H":2.4,"a":12.2,"b":15.1},{"g":18,"z":10,"H":2.6,"a":12.5,"b":15.1},{"g":18,"z":10,"H":3.9,"a":12.7,"b":15.4},{"g":18,"z":10,"H":4.5,"a":12.9,"b":15.5},{"g":18,"z":10,"H":5.5,"a":13.4,"b":15.4},{"g":18,"z":10,"H":6.9,"a":13.9,"b":15.2},{"g":18,"z":10,"H":8.1,"a":14.1,"b":14.12},
{"g":19,"z":5,"H":2.3,"a":12.4,"b":15.05},{"g":19,"z":5,"H":3.9,"a":12.85,"b":15.2},{"g":19,"z":5,"H":5.3,"a":13.6,"b":15},{"g":19,"z":5,"H":6.7,"a":14.1,"b":14.12},
{"g":20,"z":0,"H":2,"a":11.9,"b":16.2},{"g":20,"z":0,"H":2.09,"a":11.9,"b":16.2},{"g":20,"z":0,"H":2.2,"a":12.2,"b":16},{"g":20,"z":0,"H":2.5,"a":12.6,"b":15},{"g":20,"z":0,"H":3.9,"a":13,"b":14.7},{"g":20,"z":0,"H":5.4,"a":13.95,"b":14},
{"g":21,"z":15,"H":0.5,"a":46.6,"b":63.7},{"g":21,"z":15,"H":1,"a":46,"b":64},{"g":21,"z":15,"H":1.2,"a":45,"b":64.3},{"g":21,"z":15,"H":1.57,"a":44.3,"b":64.9},{"g":21,"z":15,"H":2.5,"a":44.2,"b":65.8},{"g":21,"z":15,"H":3.4,"a":44,"b":67},{"g":21,"z":15,"H":3.6,"a":43.9,"b":68},{"g":21,"z":15,"H":4.6,"a":43.4,"b":68},{"g":21,"z":15,"H":6.5,"a":43.5,"b":68},{"g":21,"z":15,"H":9.5,"a":43.3,"b":68},{"g":21,"z":15,"H":10.7,"a":43.4,"b":68},{"g":21,"z":15,"H":10.8,"a":43.4,"b":67.7},{"g":21,"z":15,"H":13.5,"a":43.6,"b":65.3},{"g":21,"z":15,"H":13.7,"a":43.7,"b":64.9},{"g":21,"z":15,"H":14.1,"a":44,"b":64.3},{"g":21,"z":15,"H":14.11,"a":45,"b":64.3},{"g":21,"z":15,"H":14.63,"a":45.9,"b":63.6},{"g":21,"z":15,"H":14.94,"a":46,"b":63},{"g":21,"z":15,"H":16.31,"a":46.1,"b":62.1},{"g":21,"z":15,"H":17.3,"a":46.6,"b":61},{"g":21,"z":15,"H":17.4,"a":46.7,"b":59.85},{"g":21,"z":15,"H":18.6,"a":46.9,"b":58.5},{"g":21,"z":15,"H":18.65,"a":48.2,"b":58.4},{"g":21,"z":15,"H":18.9,"a":50,"b":58.1},{"g":21,"z":15,"H":19,"a":50.3,"b":58},{"g":21,"z":15,"H":20,"a":50,"b":57.2},
{"g":22,"z":20,"H":2.4,"a":4,"b":12.4},{"g":22,"z":20,"H":2.5,"a":1,"b":12.5},{"g":22,"z":20,"H":3.8,"a":1,"b":12.7},{"g":22,"z":20,"H":4.6,"a":1,"b":13},{"g":22,"z":20,"H":5.2,"a":2.1,"b":13.1},{"g":22,"z":20,"H":5.5,"a":2.2,"b":13.2},{"g":22,"z":20,"H":7.5,"a":2.3,"b":13.3},{"g":22,"z":20,"H":9,"a":2.4,"b":13.4},{"g":22,"z":20,"H":9.5,"a":2.4,"b":13.4},{"g":22,"z":20,"H":10.4,"a":2.5,"b":13.2},{"g":22,"z":20,"H":10.6,"a":2.6,"b":13},{"g":22,"z":20,"H":11.2,"a":2.7,"b":11.6},{"g":22,"z":20,"H":12.3,"a":2.9,"b":10},{"g":22,"z":20,"H":12.31,"a":2.9,"b":7.6},{"g":22,"z":20,"H":12.9,"a":3.2,"b":7.6},{"g":22,"z":20,"H":14.5,"a":3.4,"b":7.6},{"g":22,"z":20,"H":17.2,"a":3.7,"b":7.5},
{"g":23,"z":15,"H":10.4,"a":8,"b":8.02},{"g":23,"z":15,"H":10.6,"a":7.7,"b":8.2},{"g":23,"z":15,"H":11.2,"a":7.65,"b":8.4},{"g":23,"z":15,"H":11.5,"a":7.6,"b":8.5},{"g":23,"z":15,"H":12.2,"a":7.6,"b":9.1},{"g":23,"z":15,"H":12.3,"a":7.6,"b":10},
{"g":24,"z":20,"H":1.35,"a":17.1,"b":21.5},{"g":24,"z":20,"H":1.45,"a":17,"b":23.2},{"g":24,"z":20,"H":1.5,"a":16.9,"b":23.3},{"g":24,"z":20,"H":2.35,"a":16.1,"b":23.4},{"g":24,"z":20,"H":2.5,"a":15.1,"b":23.4},{"g":24,"z":20,"H":3.6,"a":15.1,"b":23.5},{"g":24,"z":20,"H":4.5,"a":15,"b":24.1},{"g":24,"z":20,"H":4.7,"a":15,"b":24.8},{"g":24,"z":20,"H":5.6,"a":15,"b":25.1},{"g":24,"z":20,"H":7,"a":15,"b":24},{"g":24,"z":20,"H":8.5,"a":15,"b":23.3},{"g":24,"z":20,"H":10.4,"a":15.2,"b":23.1},{"g":24,"z":20,"H":10.45,"a":15.2,"b":19.95},{"g":24,"z":20,"H":11.4,"a":16,"b":19.5},{"g":24,"z":20,"H":11.45,"a":17,"b":19.5},{"g":24,"z":20,"H":12.8,"a":17.6,"b":19},{"g":24,"z":20,"H":13.5,"a":18,"b":18.02},
{"g":25,"z":20,"H":1.4,"a":26.8,"b":28.6},{"g":25,"z":20,"H":1.5,"a":26.4,"b":29.1},{"g":25,"z":20,"H":3.5,"a":26.3,"b":29.2},{"g":25,"z":20,"H":5.35,"a":26.3,"b":29.3},{"g":25,"z":20,"H":5.4,"a":26.3,"b":31},{"g":25,"z":20,"H":6.5,"a":26.3,"b":31.5},{"g":25,"z":20,"H":7.2,"a":26.6,"b":32},{"g":25,"z":20,"H":7.7,"a":26.8,"b":33},{"g":25,"z":20,"H":8.9,"a":27,"b":33.1},{"g":25,"z":20,"H":9.2,"a":27,"b":32.4},{"g":25,"z":20,"H":9.8,"a":27.1,"b":31.7},{"g":25,"z":20,"H":10.3,"a":27.3,"b":31},{"g":25,"z":20,"H":10.4,"a":27.4,"b":30},{"g":25,"z":20,"H":10.6,"a":27.4,"b":29.5},{"g":25,"z":20,"H":11.4,"a":28,"b":28.02},
{"g":26,"z":15,"H":5.36,"a":29.3,"b":30.9},{"g":26,"z":15,"H":5.7,"a":29.9,"b":29.92},
{"g":27,"z":20,"H":6.9,"a":67.98,"b":68},{"g":27,"z":20,"H":7.5,"a":67.7,"b":68},{"g":27,"z":20,"H":9.5,"a":67.6,"b":68},{"g":27,"z":20,"H":10.5,"a":67.7,"b":68},
{"g":28,"z":20,"H":0.5,"a":46.7,"b":62.7},{"g":28,"z":20,"H":1,"a":46.2,"b":63.1},{"g":28,"z":20,"H":1.3,"a":45,"b":63.4},{"g":28,"z":20,"H":1.57,"a":44.45,"b":63.7},{"g":28,"z":20,"H":2.5,"a":44.1,"b":65.2},{"g":28,"z":20,"H":2.9,"a":44,"b":65.8},{"g":28,"z":20,"H":4.25,"a":43.7,"b":66.2},{"g":28,"z":20,"H":6.3,"a":43.6,"b":66.5},{"g":28,"z":20,"H":7.7,"a":43.6,"b":66.2},{"g":28,"z":20,"H":9,"a":43.7,"b":65.3},{"g":28,"z":20,"H":10.15,"a":43.7,"b":64.9},{"g":28,"z":20,"H":10.5,"a":43.7,"b":64.8},{"g":28,"z":20,"H":11.5,"a":43.8,"b":65.65},{"g":28,"z":20,"H":12.2,"a":43.8,"b":65.6},{"g":28,"z":20,"H":12.6,"a":43.9,"b":65.3},{"g":28,"z":20,"H":12.85,"a":44.8,"b":65.2},{"g":28,"z":20,"H":13.5,"a":45.65,"b":64.95},{"g":28,"z":20,"H":13.6,"a":45.8,"b":64.9},{"g":28,"z":20,"H":13.9,"a":46.3,"b":63.7},{"g":28,"z":20,"H":14.4,"a":46.9,"b":63.3},{"g":28,"z":20,"H":14.94,"a":47.7,"b":62.8},{"g":28,"z":20,"H":15.25,"a":48.1,"b":62.5},{"g":28,"z":20,"H":16.88,"a":49,"b":61.1},{"g":28,"z":20,"H":17.1,"a":49.1,"b":60.9},{"g":28,"z":20,"H":17.3,"a":49.2,"b":59.75},{"g":28,"z":20,"H":18.1,"a":49.4,"b":59},{"g":28,"z":20,"H":19,"a":50.6,"b":58.1},{"g":28,"z":20,"H":20,"a":50.2,"b":57.1},
{"g":30,"z":25,"H":2.53,"a":1,"b":12.3},{"g":30,"z":25,"H":3.5,"a":1,"b":12.4},{"g":30,"z":25,"H":4.5,"a":1.8,"b":12.5},{"g":30,"z":25,"H":5.5,"a":2.4,"b":12.6},{"g":30,"z":25,"H":6.5,"a":2.5,"b":12.5},{"g":30,"z":25,"H":8.5,"a":2.6,"b":12},{"g":30,"z":25,"H":9.3,"a":2.7,"b":11.8},{"g":30,"z":25,"H":9.7,"a":2.8,"b":11.3},{"g":30,"z":25,"H":10.1,"a":2.9,"b":10.9},{"g":30,"z":25,"H":11,"a":3.1,"b":9.45},{"g":30,"z":25,"H":11.01,"a":3.1,"b":7.6},{"g":30,"z":25,"H":12.5,"a":3.4,"b":7.3},{"g":30,"z":25,"H":17.2,"a":4.1,"b":7},
{"g":31,"z":20,"H":10,"a":8,"b":8.02},{"g":31,"z":20,"H":11,"a":7.6,"b":9.3},
{"g":32,"z":25,"H":1.5,"a":17.7,"b":22},{"g":32,"z":25,"H":1.55,"a":17.5,"b":22},{"g":32,"z":25,"H":2.4,"a":16.4,"b":22},{"g":32,"z":25,"H":2.6,"a":15.5,"b":22},{"g":32,"z":25,"H":4,"a":15.4,"b":22},{"g":32,"z":25,"H":4.05,"a":15.4,"b":23},{"g":32,"z":25,"H":4.25,"a":15.4,"b":23.3},{"g":32,"z":25,"H":6.3,"a":15.4,"b":23.2},{"g":32,"z":25,"H":7.5,"a":15.5,"b":22.5},{"g":32,"z":25,"H":9,"a":15.7,"b":21.9},{"g":32,"z":25,"H":9.7,"a":15.8,"b":21.6},{"g":32,"z":25,"H":9.9,"a":15.9,"b":20},{"g":32,"z":25,"H":10.4,"a":16.8,"b":19},{"g":32,"z":25,"H":11,"a":18,"b":18.02},
{"g":33,"z":25,"H":1.5,"a":26.95,"b":27.8},{"g":33,"z":25,"H":3.7,"a":26.8,"b":29},{"g":33,"z":25,"H":5.5,"a":26.8,"b":29.2},{"g":33,"z":25,"H":6.1,"a":26.9,"b":29},{"g":33,"z":25,"H":6.4,"a":27,"b":28.6},{"g":33,"z":25,"H":6.6,"a":28,"b":28.02},
{"g":34,"z":25,"H":0.5,"a":46.8,"b":62},{"g":34,"z":25,"H":1,"a":46.3,"b":62.6},{"g":34,"z":25,"H":1.33,"a":46,"b":62.8},{"g":34,"z":25,"H":1.5,"a":44.5,"b":63},{"g":34,"z":25,"H":2.2,"a":44.6,"b":63.4},{"g":34,"z":25,"H":2.6,"a":44.5,"b":63.6},{"g":34,"z":25,"H":3.9,"a":44.2,"b":64.9},{"g":34,"z":25,"H":4.95,"a":43.9,"b":65.1},{"g":34,"z":25,"H":5.6,"a":44,"b":65.3},{"g":34,"z":25,"H":7,"a":44.1,"b":65.3},{"g":34,"z":25,"H":8.4,"a":44.8,"b":64.7},{"g":34,"z":25,"H":9.5,"a":44.8,"b":64.2},{"g":34,"z":25,"H":10.4,"a":45,"b":63.6},{"g":34,"z":25,"H":11.2,"a":45.1,"b":63},{"g":34,"z":25,"H":11.25,"a":45.1,"b":61.8},{"g":34,"z":25,"H":12,"a":45.3,"b":61.8},{"g":34,"z":25,"H":12.3,"a":45.6,"b":61.8},{"g":34,"z":25,"H":12.35,"a":45.6,"b":63.1},{"g":34,"z":25,"H":12.6,"a":45.7,"b":63.6},{"g":34,"z":25,"H":13.2,"a":46.9,"b":63.8},{"g":34,"z":25,"H":13.4,"a":47.5,"b":63.9},{"g":34,"z":25,"H":13.5,"a":48.2,"b":63.8},{"g":34,"z":25,"H":13.8,"a":48.7,"b":63.6},{"g":34,"z":25,"H":14.5,"a":49.3,"b":62.5},{"g":34,"z":25,"H":15.5,"a":49.9,"b":61.6},{"g":34,"z":25,"H":15.75,"a":49.9,"b":61.4},{"g":34,"z":25,"H":17,"a":50,"b":60.4},{"g":34,"z":25,"H":17.1,"a":50,"b":60.3},{"g":34,"z":25,"H":17.8,"a":50.1,"b":58.8},{"g":34,"z":25,"H":18,"a":50.3,"b":58.6},{"g":34,"z":25,"H":19,"a":51,"b":58},{"g":34,"z":25,"H":20,"a":51,"b":57},
{"g":35,"z":30,"H":2.6,"a":1.6,"b":11.5},{"g":35,"z":30,"H":3.5,"a":1.8,"b":11.9},{"g":35,"z":30,"H":3.9,"a":2,"b":12},{"g":35,"z":30,"H":5.6,"a":2.9,"b":11.6},{"g":35,"z":30,"H":7,"a":3,"b":11.3},{"g":35,"z":30,"H":8.4,"a":3.2,"b":10.7},{"g":35,"z":30,"H":9.5,"a":3.4,"b":9.7},{"g":35,"z":30,"H":9.9,"a":3.4,"b":9},{"g":35,"z":30,"H":10,"a":3.4,"b":7.7},{"g":35,"z":30,"H":10.5,"a":3.5,"b":7.5},{"g":35,"z":30,"H":12.5,"a":4.1,"b":7.5},{"g":35,"z":30,"H":14.5,"a":4.5,"b":6.9},{"g":35,"z":30,"H":17.2,"a":4.8,"b":6.3},
{"g":36,"z":30,"H":1.45,"a":18,"b":21},{"g":36,"z":30,"H":1.55,"a":17.6,"b":21.4},{"g":36,"z":30,"H":2.36,"a":16.1,"b":21.4},{"g":36,"z":30,"H":2.5,"a":15.8,"b":21.4},{"g":36,"z":30,"H":3.5,"a":15.9,"b":21.4},{"g":36,"z":30,"H":6.3,"a":16.2,"b":21.6},{"g":36,"z":30,"H":7,"a":16.2,"b":21.6},{"g":36,"z":30,"H":8.2,"a":16.3,"b":21.1},{"g":36,"z":30,"H":8.7,"a":16.5,"b":21},{"g":36,"z":30,"H":8.8,"a":16.8,"b":19.4},{"g":36,"z":30,"H":9.1,"a":17.1,"b":18.9},{"g":36,"z":30,"H":9.7,"a":18,"b":18.02},
{"g":37,"z":25,"H":8.2,"a":20,"b":20.02},{"g":37,"z":25,"H":8.7,"a":19.35,"b":20.85},
{"g":38,"z":30,"H":0.5,"a":46.85,"b":61.5},{"g":38,"z":30,"H":1.1,"a":46.5,"b":62},{"g":38,"z":30,"H":1.35,"a":46.2,"b":62.1},{"g":38,"z":30,"H":1.5,"a":45.6,"b":62.2},{"g":38,"z":30,"H":1.57,"a":45.1,"b":62.2},{"g":38,"z":30,"H":2.5,"a":45.1,"b":62.6},{"g":38,"z":30,"H":4.25,"a":44.7,"b":63.6},{"g":38,"z":30,"H":6,"a":44.3,"b":64.1},{"g":38,"z":30,"H":6.3,"a":44.4,"b":64.2},{"g":38,"z":30,"H":7.4,"a":44.6,"b":64.1},{"g":38,"z":30,"H":8.5,"a":46,"b":63.7},{"g":38,"z":30,"H":9.5,"a":46.3,"b":63.2},{"g":38,"z":30,"H":10.6,"a":46.4,"b":63},{"g":38,"z":30,"H":10.65,"a":46.4,"b":61.6},{"g":38,"z":30,"H":11.7,"a":46.4,"b":61},{"g":38,"z":30,"H":12.5,"a":46.5,"b":61.3},{"g":38,"z":30,"H":12.75,"a":46.7,"b":61.4},{"g":38,"z":30,"H":12.9,"a":47,"b":61.4},{"g":38,"z":30,"H":12.91,"a":49.2,"b":61.4},{"g":38,"z":30,"H":14.25,"a":49.8,"b":61.6},{"g":38,"z":30,"H":15.13,"a":50,"b":61.7},{"g":38,"z":30,"H":16.31,"a":50.7,"b":61},{"g":38,"z":30,"H":17.2,"a":51.6,"b":59.4},{"g":38,"z":30,"H":18,"a":52,"b":58.8},{"g":38,"z":30,"H":20,"a":52,"b":57},
{"g":40,"z":35,"H":2.5,"a":2.4,"b":11.5},{"g":40,"z":35,"H":3.7,"a":2.45,"b":11.4},{"g":40,"z":35,"H":4,"a":2.5,"b":11.1},{"g":40,"z":35,"H":4.5,"a":2.6,"b":10},{"g":40,"z":35,"H":7,"a":2.85,"b":9.9},{"g":40,"z":35,"H":7.7,"a":3,"b":9.7},{"g":40,"z":35,"H":7.8,"a":3.1,"b":9.6},{"g":40,"z":35,"H":7.85,"a":3.1,"b":8},{"g":40,"z":35,"H":8.7,"a":3.3,"b":7.6},{"g":40,"z":35,"H":9.5,"a":3.5,"b":7.1},{"g":40,"z":35,"H":10.5,"a":3.7,"b":6.9},{"g":40,"z":35,"H":12.5,"a":4.3,"b":6.3},{"g":40,"z":35,"H":13.25,"a":4.9,"b":6.3},{"g":40,"z":35,"H":14.5,"a":6,"b":6.02},
{"g":41,"z":35,"H":7.85,"a":8,"b":9.6},{"g":41,"z":35,"H":8.5,"a":8.4,"b":9.4},{"g":41,"z":35,"H":9.3,"a":9,"b":9.02},
{"g":42,"z":30,"H":2.5,"a":7.45,"b":8.4},{"g":42,"z":30,"H":2.6,"a":7.45,"b":8.4},{"g":42,"z":30,"H":4.95,"a":8,"b":8.02},
{"g":43,"z":40,"H":2.6,"a":2.85,"b":5.8},{"g":43,"z":40,"H":4.25,"a":3,"b":6.3},{"g":43,"z":40,"H":5.6,"a":3.1,"b":6.6},{"g":43,"z":40,"H":6.7,"a":3.2,"b":6.8},{"g":43,"z":40,"H":8.05,"a":3.4,"b":6.9},{"g":43,"z":40,"H":9.5,"a":3.7,"b":6.4},{"g":43,"z":40,"H":10.6,"a":4.3,"b":5.7},{"g":43,"z":40,"H":11.95,"a":5.05,"b":5.07},
{"g":44,"z":45,"H":2.5,"a":3.5,"b":4.8},{"g":44,"z":45,"H":4.25,"a":3.7,"b":5.3},{"g":44,"z":45,"H":6.3,"a":3.85,"b":6},{"g":44,"z":45,"H":7.85,"a":3.95,"b":6.1},{"g":44,"z":45,"H":8.8,"a":4,"b":5.9},{"g":44,"z":45,"H":9.5,"a":4.6,"b":5.4},{"g":44,"z":45,"H":9.95,"a":5,"b":5.02},
{"g":45,"z":40,"H":5.9,"a":9,"b":9.02},{"g":45,"z":40,"H":7,"a":8.95,"b":9.1},{"g":45,"z":40,"H":7.8,"a":9,"b":9.02},
{"g":46,"z":35,"H":1.5,"a":17.8,"b":21},{"g":46,"z":35,"H":2.3,"a":16.7,"b":20.8},{"g":46,"z":35,"H":2.5,"a":16.55,"b":20.6},{"g":46,"z":35,"H":2.7,"a":16.55,"b":20.7},{"g":46,"z":35,"H":3.5,"a":16.6,"b":19.8},{"g":46,"z":35,"H":5.6,"a":16.7,"b":19.5},{"g":46,"z":35,"H":6.7,"a":16.9,"b":19.3},{"g":46,"z":35,"H":7.5,"a":17,"b":18.8},{"g":46,"z":35,"H":8.05,"a":18,"b":18.02},
{"g":50,"z":35,"H":0.5,"a":46.9,"b":60.9},{"g":50,"z":35,"H":0.95,"a":46.4,"b":61},{"g":50,"z":35,"H":1.43,"a":46.1,"b":61.6},{"g":50,"z":35,"H":1.5,"a":45.6,"b":61.7},{"g":50,"z":35,"H":1.85,"a":45.7,"b":61.8},{"g":50,"z":35,"H":2.2,"a":45.8,"b":62},{"g":50,"z":35,"H":3.2,"a":46,"b":62.8},{"g":50,"z":35,"H":3.5,"a":46,"b":62.9},{"g":50,"z":35,"H":4.25,"a":45.9,"b":63.1},{"g":50,"z":35,"H":5.3,"a":45.5,"b":63.3},{"g":50,"z":35,"H":5.6,"a":45.4,"b":63.3},{"g":50,"z":35,"H":6.7,"a":45.7,"b":63.35},{"g":50,"z":35,"H":7.7,"a":46.1,"b":63.4},{"g":50,"z":35,"H":9.4,"a":46.5,"b":62.9},{"g":50,"z":35,"H":9.45,"a":46.5,"b":61.5},{"g":50,"z":35,"H":10.6,"a":46.5,"b":61.2},{"g":50,"z":35,"H":11.5,"a":46.6,"b":61},{"g":50,"z":35,"H":11.7,"a":46.7,"b":61},{"g":50,"z":35,"H":12.5,"a":46.9,"b":60.2},{"g":50,"z":35,"H":12.55,"a":52.3,"b":60.2},{"g":50,"z":35,"H":12.7,"a":52.3,"b":60},{"g":50,"z":35,"H":15.13,"a":52.4,"b":59.4},{"g":50,"z":35,"H":17,"a":52.5,"b":59.3},{"g":50,"z":35,"H":18,"a":52.6,"b":58.6},{"g":50,"z":35,"H":20,"a":52.65,"b":57},
{"g":51,"z":30,"H":11.25,"a":52,"b":52.02},{"g":51,"z":30,"H":11.7,"a":51.4,"b":52.3},{"g":51,"z":30,"H":12,"a":51,"b":52.3},{"g":51,"z":30,"H":12.25,"a":50,"b":52.3},{"g":51,"z":30,"H":12.55,"a":46.95,"b":52.35},
{"g":52,"z":30,"H":11.9,"a":48.9,"b":48.92},{"g":52,"z":30,"H":12.25,"a":47.8,"b":50},{"g":52,"z":30,"H":12.55,"a":46.95,"b":50},
{"g":53,"z":30,"H":7.65,"a":62,"b":62.02},{"g":53,"z":30,"H":9.4,"a":61.6,"b":62.85},{"g":53,"z":30,"H":9.5,"a":61.5,"b":62.9},
{"g":54,"z":40,"H":0.5,"a":46.75,"b":60.5},{"g":54,"z":40,"H":1.6,"a":46.3,"b":60.7},{"g":54,"z":40,"H":2,"a":46.35,"b":61},{"g":54,"z":40,"H":2.5,"a":46.4,"b":62},{"g":54,"z":40,"H":4.25,"a":46.5,"b":62.1},{"g":54,"z":40,"H":5.6,"a":46.5,"b":61.9},{"g":54,"z":40,"H":7.7,"a":46.5,"b":61.1},{"g":54,"z":40,"H":9,"a":46.8,"b":61},{"g":54,"z":40,"H":10.5,"a":47,"b":60.7},{"g":54,"z":40,"H":10.57,"a":47,"b":60.65},{"g":54,"z":40,"H":10.58,"a":49,"b":60.65},{"g":54,"z":40,"H":11,"a":49.9,"b":60.4},{"g":54,"z":40,"H":11.01,"a":53,"b":60.4},{"g":54,"z":40,"H":11.5,"a":53.2,"b":60.1},{"g":54,"z":40,"H":12.5,"a":53,"b":59.7},{"g":54,"z":40,"H":16.88,"a":53.2,"b":58.8},{"g":54,"z":40,"H":17.8,"a":53.4,"b":58.4},{"g":54,"z":40,"H":20,"a":53.7,"b":56.5},
{"g":55,"z":35,"H":10.5,"a":52,"b":52.02},{"g":55,"z":35,"H":11,"a":50,"b":53},
{"g":56,"z":45,"H":0.5,"a":53.6,"b":60.05},{"g":56,"z":45,"H":1.19,"a":52.6,"b":60.2},{"g":56,"z":45,"H":1.2,"a":50,"b":60.2},{"g":56,"z":45,"H":1.5,"a":49.85,"b":60.3},{"g":56,"z":45,"H":1.88,"a":50,"b":60.5},{"g":56,"z":45,"H":2.05,"a":51,"b":60.7},{"g":56,"z":45,"H":2.67,"a":51.9,"b":60.85},{"g":56,"z":45,"H":3.5,"a":52.65,"b":60.9},{"g":56,"z":45,"H":4.05,"a":51.5,"b":60.8},{"g":56,"z":45,"H":4.95,"a":51.1,"b":60.5},{"g":56,"z":45,"H":6.3,"a":50.7,"b":60},{"g":56,"z":45,"H":7.5,"a":50,"b":59.5},{"g":56,"z":45,"H":7.8,"a":51.5,"b":59.2},{"g":56,"z":45,"H":8.5,"a":52.3,"b":58.9},{"g":56,"z":45,"H":9,"a":52.65,"b":58.6},{"g":56,"z":45,"H":10.5,"a":53.4,"b":58.4},{"g":56,"z":45,"H":11.4,"a":53.8,"b":58.4},{"g":56,"z":45,"H":13.5,"a":54,"b":58.3},{"g":56,"z":45,"H":17.55,"a":54.5,"b":57.7},{"g":56,"z":45,"H":20,"a":55.2,"b":56.5},
{"g":57,"z":45,"H":1.64,"a":47,"b":47.02},{"g":57,"z":45,"H":2.3,"a":46.9,"b":47.2},{"g":57,"z":45,"H":2.64,"a":47.05,"b":47.07},
{"g":58,"z":50,"H":7.57,"a":57,"b":57.02},{"g":58,"z":50,"H":9.1,"a":56.7,"b":57.35},{"g":58,"z":50,"H":9.8,"a":56.5,"b":57.45},{"g":58,"z":50,"H":10.5,"a":56.3,"b":57.4},{"g":58,"z":50,"H":12.2,"a":55.5,"b":57.3},{"g":58,"z":50,"H":12.9,"a":55.4,"b":57.2},{"g":58,"z":50,"H":16.31,"a":55.3,"b":56.9},{"g":58,"z":50,"H":18.2,"a":55.8,"b":56.6},{"g":58,"z":50,"H":19.4,"a":56,"b":56.02},
{"g":59,"z":50,"H":1.86,"a":58.95,"b":59},{"g":59,"z":50,"H":2.5,"a":58,"b":59.6},{"g":59,"z":50,"H":3.2,"a":58.15,"b":59.2},{"g":59,"z":50,"H":3.5,"a":58.2,"b":59.15},{"g":59,"z":50,"H":3.9,"a":59,"b":59.02},
{"g":60,"z":10,"H":19.83,"a":4.2,"b":8.1},{"g":60,"z":10,"H":20,"a":4.2,"b":8.1},
{"g":61,"z":15,"H":19.83,"a":4.2,"b":7.5},{"g":61,"z":15,"H":20,"a":4.2,"b":7.5},
{"g":62,"z":20,"H":19.83,"a":4.8,"b":6.9},{"g":62,"z":20,"H":20,"a":4.8,"b":6.9},
{"g":63,"z":25,"H":19.83,"a":5.1,"b":6.4},{"g":63,"z":25,"H":20,"a":5.1,"b":6.4},
{"g":64,"z":30,"H":19.83,"a":5.4,"b":6.1},{"g":64,"z":30,"H":20,"a":5.4,"b":6.1}
]},
"hconcat":[
{"width":1333,"height":1230,"resolve":{"axis":{"x":"independent","y":"independent"}},"layer":[
{"data":{"name":"a"},"mark":{"type":"area","orient":"horizontal"},"encoding":{"y":{"field":"H","type":"quantitative","scale":{"domain":[0.5,14.5,17,20],"range":[1230,324,194,0],"zero":false,"nice":false},"axis":{"orient":"left","title":"H(km)","titlePadding":30,"values":[0.5,1.5,2.5,3.5,4.5,5.5,6.5,7.5,8.5,9.5,10.5,11.5,12.5,13.5,14.5,15.75,17,18,19],"labelExpr":"indexof([0.5,2.5,4.5,6.5,8.5,10.5,12.5,14.5,17,19],datum.value)>=0?''+datum.value:''","tickSize":-14,"labelPadding":43}},"x":{"field":"a","type":"quantitative","stack":null,"scale":{"domain":[1,68],"nice":false,"zero":false},"axis":{"orient":"bottom","title":"R(km)","titlePadding":26,"values":[10,20,30,40,50,60],"tickSize":-14,"labelPadding":54}},"x2":{"field":"b"},"detail":{"field":"g","type":"nominal"},"color":{"field":"z","type":"ordinal","scale":{"domain":[0,5,10,15,20,25,30,35,40,45,50,55,60,65],"range":["#FFFFFF","#87D4FF","#00ECEE","#00A0FF","#00FF00","#00CC00","#009100","#FFFF00","#E6C200","#FF9200","#FF0000","#A00000","#5A0000","#FF00FF"]},"legend":null}}},
{"data":{"values":[{"R0":1.9,"R1":15.5,"H0":17.14,"H1":19.74}]},"mark":{"type":"rect","fill":"white"},"encoding":{"x":{"field":"R0","type":"quantitative","axis":{"orient":"top","title":null,"labels":false,"values":[10,20,30,40,50,60],"tickSize":-14}},"x2":{"field":"R1"},"y":{"field":"H0","type":"quantitative","axis":{"orient":"right","title":null,"labels":false,"values":[0.5,1.5,2.5,3.5,4.5,5.5,6.5,7.5,8.5,9.5,10.5,11.5,12.5,13.5,14.5,15.75,17,18,19],"tickSize":-14}},"y2":{"field":"H1"}}},
{"data":{"values":[{"R":8.7,"H":18.15,"t":"(a)"}]},"mark":{"type":"text","font":"Liberation Serif","fontSize":74,"color":"#111"},"encoding":{"x":{"field":"R","type":"quantitative","axis":null},"y":{"field":"H","type":"quantitative","axis":null},"text":{"field":"t"}}}
]},
{"width":40,"height":1230,"view":{"stroke":null},"layer":[
{"data":{"name":"cb"},"mark":"rect","encoding":{"y":{"field":"lo","type":"quantitative","scale":{"domain":[0,70],"range":[1181,211],"nice":false,"zero":false},"axis":{"orient":"right","title":null,"values":[0,10,20,30,40,50,60,70],"tickSize":-10,"labelPadding":37}},"y2":{"field":"hi"},"color":{"field":"z","type":"ordinal","scale":{"domain":[0,5,10,15,20,25,30,35,40,45,50,55,60,65],"range":["#FFFFFF","#87D4FF","#00ECEE","#00A0FF","#00FF00","#00CC00","#009100","#FFFF00","#E6C200","#FF9200","#FF0000","#A00000","#5A0000","#FF00FF"]},"legend":null}}},
{"data":{"values":[{"lo":0,"hi":70}]},"mark":{"type":"rect","fillOpacity":0,"stroke":"#555","strokeWidth":3},"encoding":{"y":{"field":"lo","type":"quantitative"},"y2":{"field":"hi"}}},
{"data":{"values":[{"v":74.3,"t":"dBZ"}]},"mark":{"type":"text","font":"Liberation Sans","fontSize":60,"color":"#333","dx":18},"encoding":{"y":{"field":"v","type":"quantitative"},"text":{"field":"t"}}}
]},
{"width":365,"height":1230,"view":{"stroke":null},"data":{"values":[{"k":0}]},"mark":{"type":"point","opacity":0},"encoding":{}},
{"width":1332,"height":1230,"resolve":{"axis":{"x":"independent","y":"independent"}},"layer":[
{"data":{"name":"b"},"mark":{"type":"area","orient":"horizontal"},"encoding":{"y":{"field":"H","type":"quantitative","scale":{"domain":[0.5,14.5,17,20],"range":[1230,324,194,0],"zero":false,"nice":false},"axis":{"orient":"left","title":"H(km)","titlePadding":30,"values":[0.5,1.5,2.5,3.5,4.5,5.5,6.5,7.5,8.5,9.5,10.5,11.5,12.5,13.5,14.5,15.75,17,18,19],"labelExpr":"indexof([0.5,2.5,4.5,6.5,8.5,10.5,12.5,14.5,17,19],datum.value)>=0?''+datum.value:''","tickSize":-14,"labelPadding":43}},"x":{"field":"a","type":"quantitative","stack":null,"scale":{"domain":[1,68],"nice":false,"zero":false},"axis":{"orient":"bottom","title":"R(km)","titlePadding":26,"values":[10,20,30,40,50,60],"tickSize":-14,"labelPadding":54}},"x2":{"field":"b"},"detail":{"field":"g","type":"nominal"},"color":{"field":"z","type":"ordinal","scale":{"domain":[0,5,10,15,20,25,30,35,40,45,50,55,60,65],"range":["#FFFFFF","#87D4FF","#00ECEE","#00A0FF","#00FF00","#00CC00","#009100","#FFFF00","#E6C200","#FF9200","#FF0000","#A00000","#5A0000","#FF00FF"]},"legend":null}}},
{"data":{"values":[{"R0":3,"R1":9.1,"H0":17.22,"H1":19.83}]},"mark":{"type":"rect","fill":"white"},"encoding":{"x":{"field":"R0","type":"quantitative","axis":{"orient":"top","title":null,"labels":false,"values":[10,20,30,40,50,60],"tickSize":-14}},"x2":{"field":"R1"},"y":{"field":"H0","type":"quantitative","axis":{"orient":"right","title":null,"labels":false,"values":[0.5,1.5,2.5,3.5,4.5,5.5,6.5,7.5,8.5,9.5,10.5,11.5,12.5,13.5,14.5,15.75,17,18,19],"tickSize":-14}},"y2":{"field":"H1"}}},
{"data":{"values":[{"R":8.7,"H":18.24,"t":"(b)"}]},"mark":{"type":"text","font":"Liberation Serif","fontSize":76,"color":"#111"},"encoding":{"x":{"field":"R","type":"quantitative","axis":null},"y":{"field":"H","type":"quantitative","axis":null},"text":{"field":"t"}}}
]},
{"width":39,"height":1230,"view":{"stroke":null},"layer":[
{"data":{"name":"cb"},"mark":"rect","encoding":{"y":{"field":"lo","type":"quantitative","scale":{"domain":[0,70],"range":[1181,211],"nice":false,"zero":false},"axis":{"orient":"right","title":null,"values":[0,10,20,30,40,50,60,70],"tickSize":-10,"labelPadding":37}},"y2":{"field":"hi"},"color":{"field":"z","type":"ordinal","scale":{"domain":[0,5,10,15,20,25,30,35,40,45,50,55,60,65],"range":["#FFFFFF","#87D4FF","#00ECEE","#00A0FF","#00FF00","#00CC00","#009100","#FFFF00","#E6C200","#FF9200","#FF0000","#A00000","#5A0000","#FF00FF"]},"legend":null}}},
{"data":{"values":[{"lo":0,"hi":70}]},"mark":{"type":"rect","fillOpacity":0,"stroke":"#555","strokeWidth":3},"encoding":{"y":{"field":"lo","type":"quantitative"},"y2":{"field":"hi"}}},
{"data":{"values":[{"v":74.3,"t":"dBZ"}]},"mark":{"type":"text","font":"Liberation Sans","fontSize":60,"color":"#333","dx":18},"encoding":{"y":{"field":"v","type":"quantitative"},"text":{"field":"t"}}}
]}
]}
